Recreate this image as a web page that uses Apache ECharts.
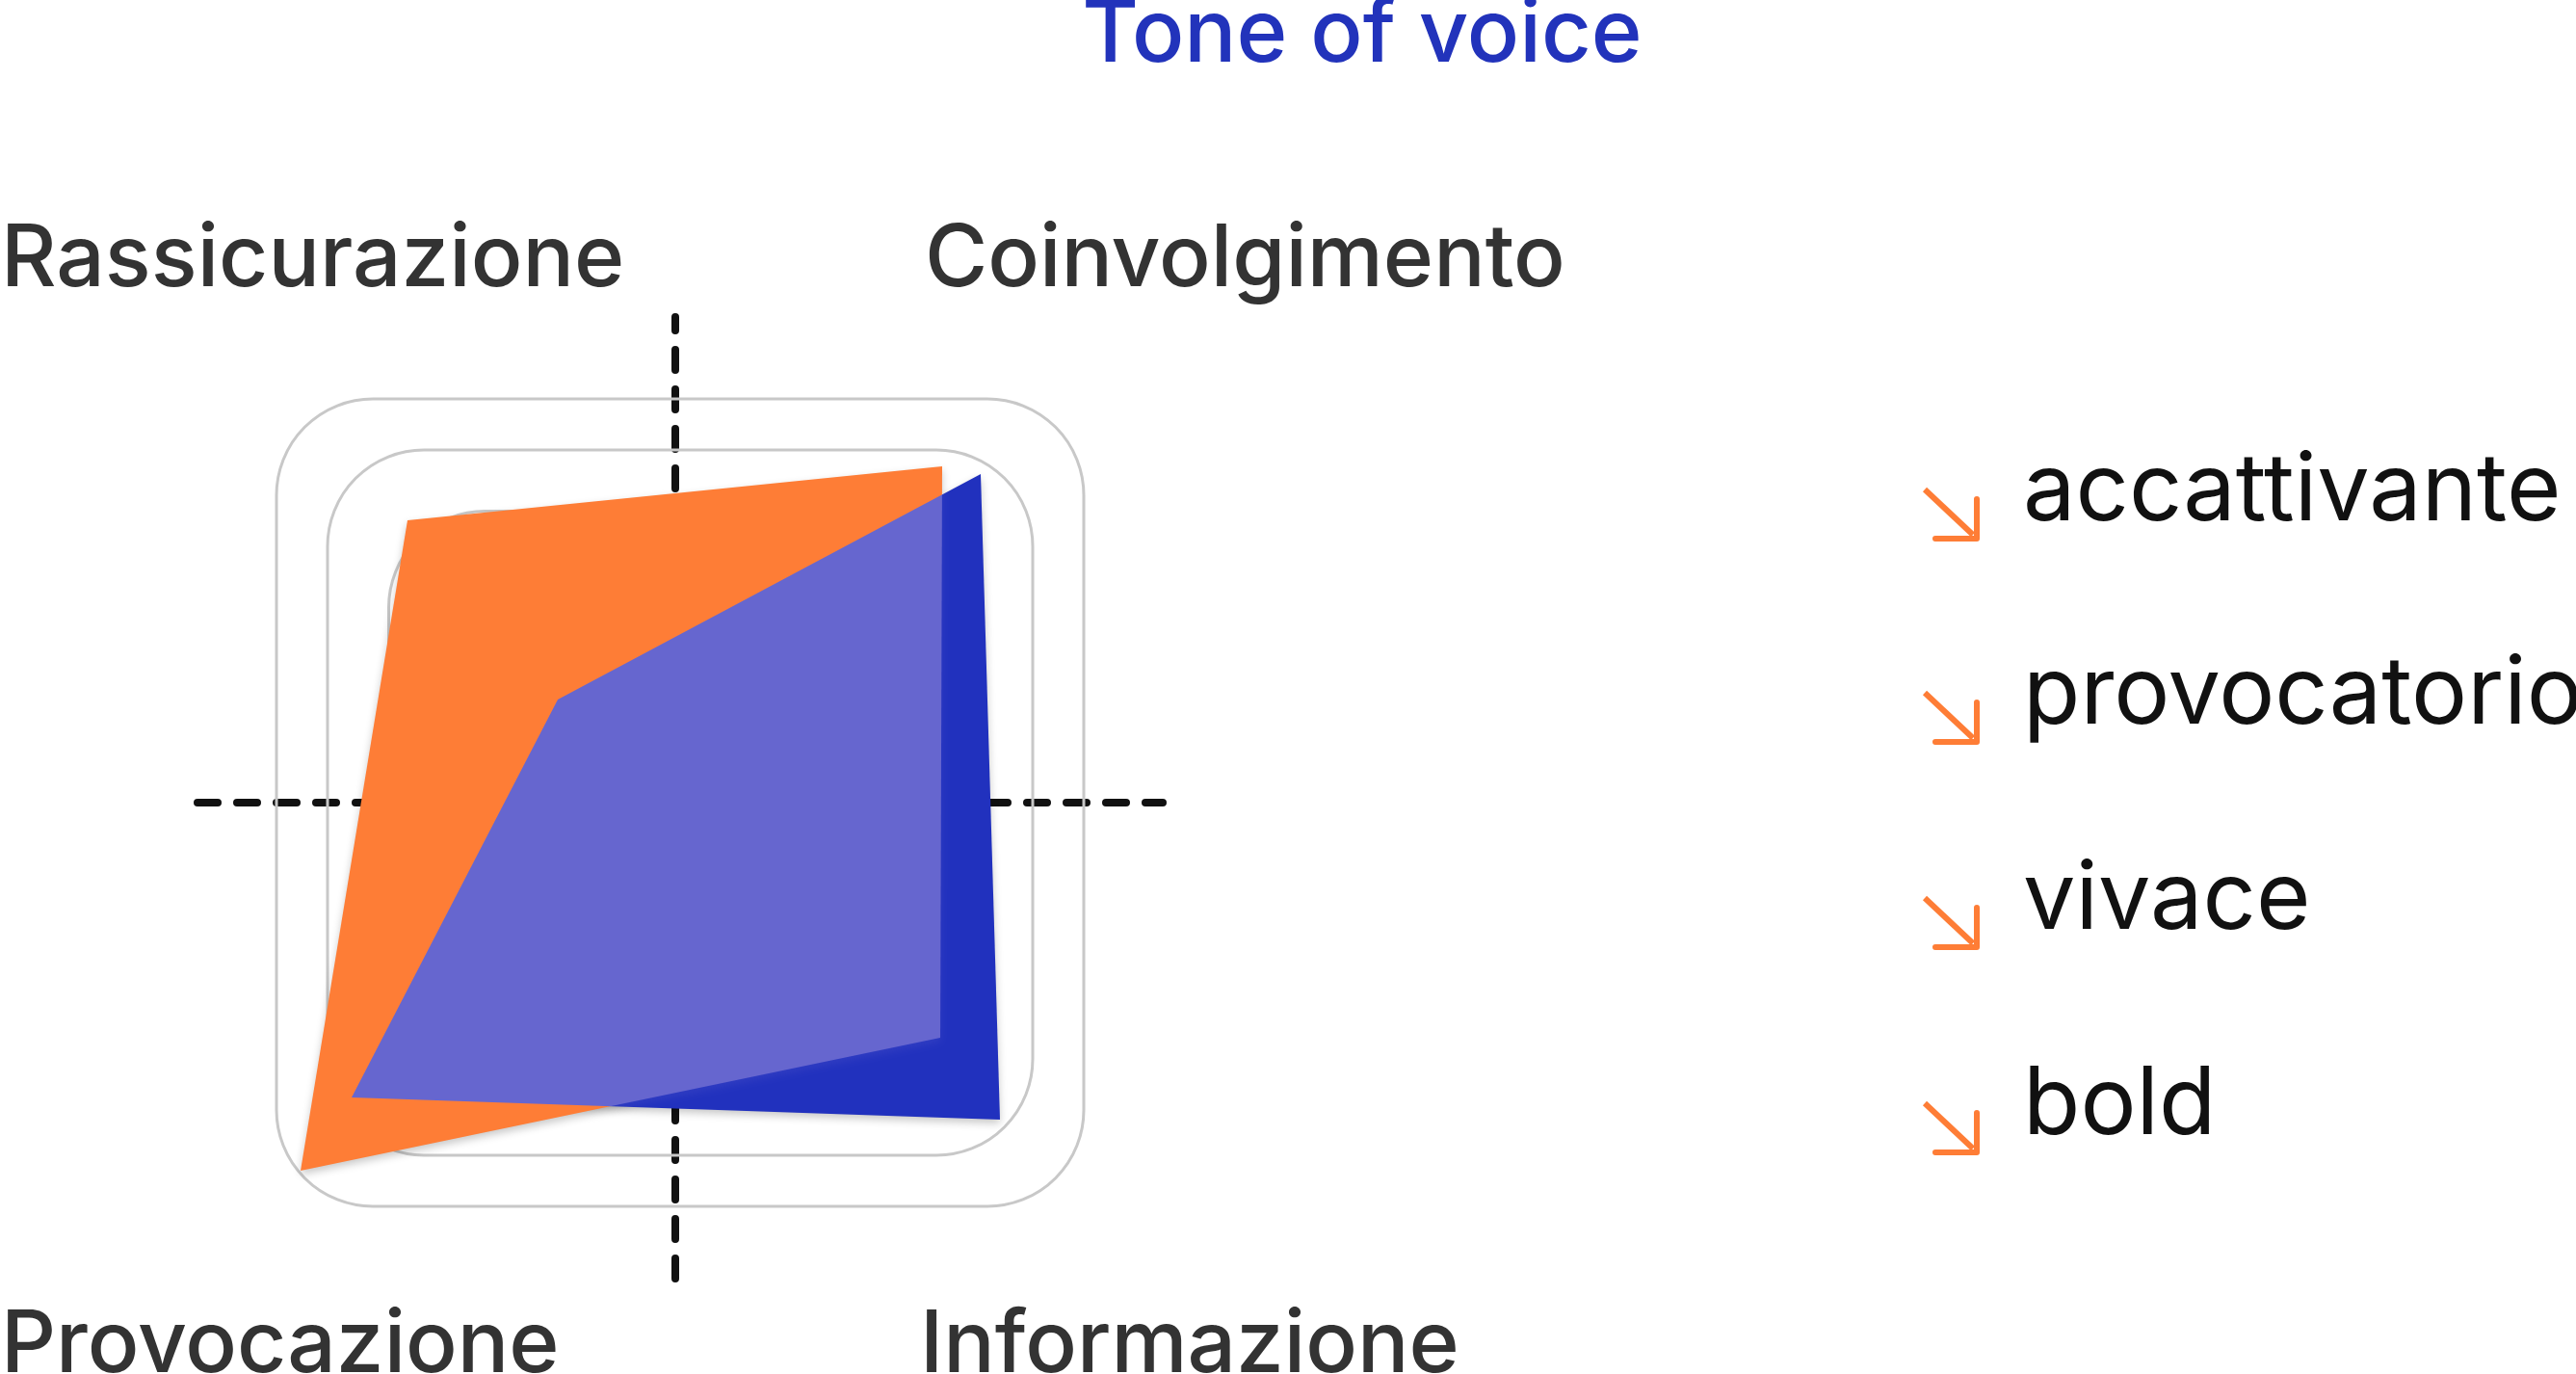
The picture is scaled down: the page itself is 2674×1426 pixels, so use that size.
<!DOCTYPE html>
<html>
<head>
<meta charset="utf-8">
<script src="https://cdn.jsdelivr.net/npm/echarts@6/dist/echarts.min.js"></script>
<style>
html,body{margin:0;padding:0;background:#ffffff;}
#chart{width:2674px;height:1426px;}
</style>
</head>
<body>
<div id="chart"></div>
<script>
// ---- data ----
const chartTitle = 'Tone of voice';
const categories = ['Coinvolgimento', 'Rassicurazione', 'Provocazione', 'Informazione'];
// vertex positions (axis units, centre = 0,0) in category order
const orangeX = [5.54, -5.56, -7.78, 5.50];
const orangeY = [6.98, 5.86, -7.64, -4.88];
const blueX = [6.34, -2.44, -6.72, 6.74];
const blueY = [6.82, 2.14, -6.12, -6.58];
// rounded reference frames (half size, axis units)
const gridLevels = [6.05, 7.32, 8.38];
const keywords = ['accattivante', 'provocatorio', 'vivace', 'bold'];

// ---- styles ----
const FONT = 'Inter';
const ORANGE = '#FE7D36';
const BLUE = '#2131BE';
const BLUE_LIGHT = '#6666CF';
const TITLE_BLUE = '#2233BB';
const frameCenterX = 0.1;
const frameRadius = 2;

function flat(xs, ys) {
  const out = [];
  xs.forEach((x, i) => { out.push(x, ys[i]); });
  return out;
}

function polygonSeries(name, xs, ys, fill, extra, withShadow) {
  const n = xs.length;
  const xDims = [], yDims = [];
  for (let i = 0; i < n; i++) { xDims.push(2 * i); yDims.push(2 * i + 1); }
  return Object.assign({
    type: 'custom',
    name: name,
    coordinateSystem: 'cartesian2d',
    silent: true,
    animation: false,
    encode: { x: xDims, y: yDims },
    data: [flat(xs, ys)],
    renderItem: function (params, api) {
      const pts = [];
      for (let i = 0; i < n; i++) {
        pts.push(api.coord([api.value(2 * i), api.value(2 * i + 1)]));
      }
      const style = { fill: fill };
      if (withShadow) {
        style.shadowBlur = 8;
        style.shadowColor = 'rgba(0,0,0,0.22)';
        style.shadowOffsetY = 4;
      }
      return { type: 'polygon', shape: { points: pts }, style: style };
    }
  }, extra);
}

const chart = echarts.init(document.getElementById('chart'), null, { renderer: 'canvas' });

const axisCommon = {
  type: 'value',
  axisLine: { show: true, onZero: true, lineStyle: { color: '#111111', width: 8, type: [21, 20] } },
  axisTick: { show: false },
  axisLabel: { show: false },
  splitLine: { show: false }
};

// graphic texts
const graphics = [];
graphics.push({
  type: 'text', x: 1414, y: 37, z: 10,
  style: { text: chartTitle, fill: TITLE_BLUE, font: '500 90px ' + FONT, align: 'center', verticalAlign: 'middle' }
});
const catPos = [
  { x: 960, y: 270 },
  { x: 1, y: 270 },
  { x: 1, y: 1397 },
  { x: 955, y: 1397 }
];
categories.forEach((c, i) => {
  graphics.push({
    type: 'text', x: catPos[i].x, y: catPos[i].y, z: 10,
    style: { text: c, fill: '#333333', font: '500 89px ' + FONT, align: 'left', verticalAlign: 'middle' }
  });
});
const kwBase = [546, 757, 970, 1183];
keywords.forEach((k, i) => {
  const b = kwBase[i];
  graphics.push({
    type: 'text', x: 2100, y: b - 35, z: 10,
    style: { text: k, fill: '#111111', font: '400 97px ' + FONT, align: 'left', verticalAlign: 'middle' }
  });
  graphics.push({
    type: 'polyline', z: 10,
    shape: { points: [[1998, b - 38], [2048, b + 9]] },
    style: { stroke: ORANGE, lineWidth: 6, fill: null }
  });
  graphics.push({
    type: 'polyline', z: 10,
    shape: { points: [[2052, b - 28], [2052, b + 13], [2009, b + 13]] },
    style: { stroke: ORANGE, lineWidth: 6, fill: null, lineCap: 'round', lineJoin: 'round' }
  });
});

chart.setOption({
  backgroundColor: '#ffffff',
  animation: false,
  grid: { left: 205, width: 1002, top: 329, height: 998 },
  xAxis: Object.assign({ min: -9.92, max: 10.12 }, axisCommon),
  yAxis: Object.assign({ min: -9.88, max: 10.08 }, axisCommon),
  graphic: { elements: graphics },
  series: [
    {
      type: 'custom',
      name: 'frames',
      coordinateSystem: 'cartesian2d',
      silent: true,
      animation: false,
      z: 1,
      encode: { x: 0, y: 0 },
      data: gridLevels.map(l => [l]),
      renderItem: function (params, api) {
        const l = api.value(0);
        const p1 = api.coord([frameCenterX - l, l]);
        const p2 = api.coord([frameCenterX + l, -l]);
        const r = api.size([frameRadius, 0])[0];
        return {
          type: 'rect',
          shape: { x: p1[0], y: p1[1], width: p2[0] - p1[0], height: p2[1] - p1[1], r: r },
          style: { fill: 'none', stroke: '#C8C8C8', lineWidth: 3 }
        };
      }
    },
    polygonSeries('blu', blueX, blueY, BLUE, { z: 5, zlevel: 0 }, true),
    polygonSeries('arancione', orangeX, orangeY, ORANGE, { z: 2, zlevel: 1 }, true),
    polygonSeries('sovrapposizione', blueX, blueY, BLUE_LIGHT, { z: 3, zlevel: 1, blendMode: 'source-atop' }, false)
  ]
});
</script>
</body>
</html>
